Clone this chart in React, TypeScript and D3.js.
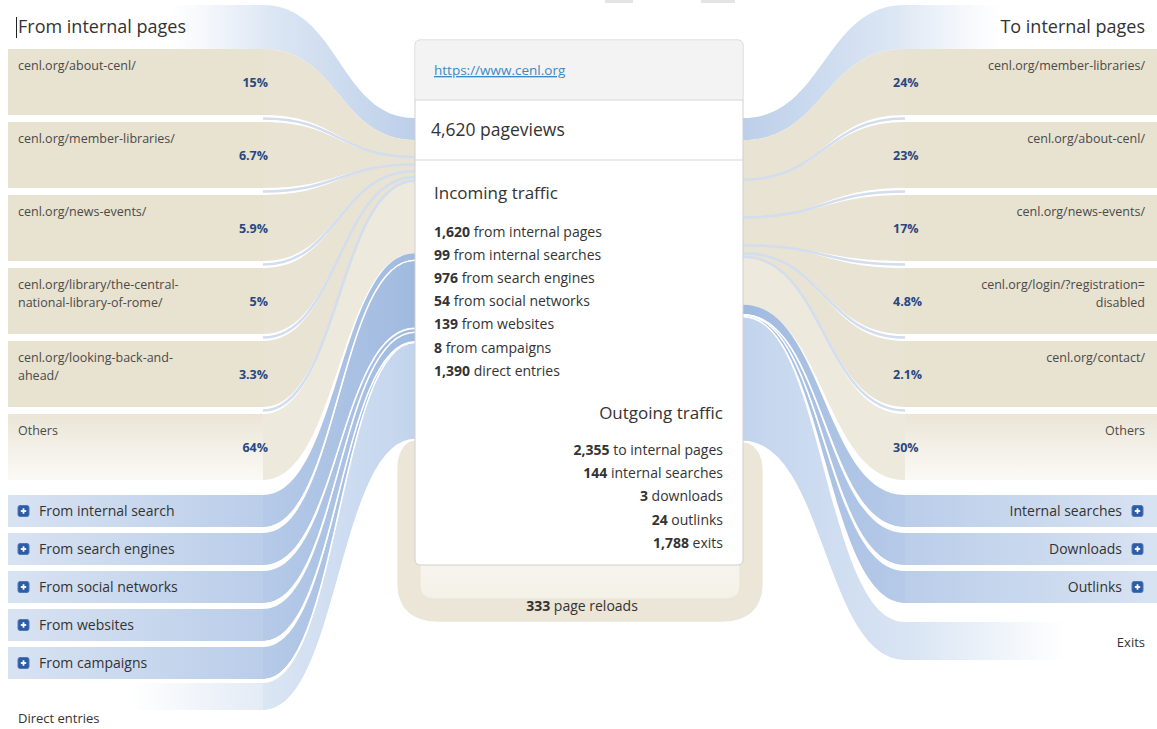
import * as d3 from "d3";

const pageUrl = "https://www.cenl.org";
const pageviews = 4620;
const reloads = 333;

const fromPageLabels = [
  ["cenl.org/about-cenl/"],
  ["cenl.org/member-libraries/"],
  ["cenl.org/news-events/"],
  ["cenl.org/library/the-central-", "national-library-of-rome/"],
  ["cenl.org/looking-back-and-", "ahead/"],
  ["Others"],
];
const fromPageShares = [15, 6.7, 5.9, 5, 3.3, 64];

const toPageLabels = [
  ["cenl.org/member-libraries/"],
  ["cenl.org/about-cenl/"],
  ["cenl.org/news-events/"],
  ["cenl.org/login/?registration=", "disabled"],
  ["cenl.org/contact/"],
  ["Others"],
];
const toPageShares = [24, 23, 17, 4.8, 2.1, 30];

const incomingLabels = [
  "from internal pages",
  "from internal searches",
  "from search engines",
  "from social networks",
  "from websites",
  "from campaigns",
  "direct entries",
];
const incomingValues = [1620, 99, 976, 54, 139, 8, 1390];
const incomingGroups = [
  "From internal search",
  "From search engines",
  "From social networks",
  "From websites",
  "From campaigns",
  "Direct entries",
];

const outgoingLabels = ["to internal pages", "internal searches", "downloads", "outlinks", "exits"];
const outgoingValues = [2355, 144, 3, 24, 1788];
const outgoingGroups = ["Internal searches", "Downloads", "Outlinks", "Exits"];

// ---- layout
const W = 1157;
const H = 729;
const FONT = "'Open Sans', 'Noto Sans', sans-serif";
const fmt = d3.format(",");

const boxL0 = 8;
const junctionL = 263;
const centerL = 415;
const centerR = 743;
const junctionR = 905;
const boxR1 = 1157;
const flowTop = 140;
const pageTop = (i: number) => 49 + i * 73;
const pageH = 66;
const groupTop = (i: number) => 495 + i * 38;
const groupH = 32;

// flow thickness where it meets the centre box
const thick = d3.scaleLinear().domain([0, pageviews]).range([0, 323]);

const stack = (values: number[], start: number) => {
  let y = start;
  return values.map((v) => {
    const y0 = y;
    y += thick(v);
    return [y0, y];
  });
};

const inPageDest = stack(fromPageShares.map((s) => (s / 100) * incomingValues[0]), flowTop);
const inGroupDest = stack(incomingValues.slice(1), flowTop + thick(incomingValues[0]));
const outPageDest = stack(toPageShares.map((s) => (s / 100) * outgoingValues[0]), flowTop);
const outGroupDest = stack(outgoingValues.slice(1), flowTop + thick(outgoingValues[0]));

const leftGroupBoxes = incomingGroups.map((_, i) =>
  i < incomingGroups.length - 1 ? { top: groupTop(i), h: groupH } : { top: 683, h: 27 }
);
const rightGroupBoxes = outgoingGroups.map((_, i) =>
  i < outgoingGroups.length - 1 ? { top: groupTop(i), h: groupH } : { top: 622, h: 38 }
);

// band between two vertical intervals
const band = (xa: number, a0: number, a1: number, xb: number, b0: number, b1: number) => {
  const p = d3.path();
  const xm = (xa + xb) / 2;
  p.moveTo(xa, a0);
  p.bezierCurveTo(xm, a0, xm, b0, xb, b0);
  p.lineTo(xb, b1);
  p.bezierCurveTo(xm, b1, xm, a1, xa, a1);
  p.closePath();
  return p.toString();
};
const edge = (xa: number, a: number, xb: number, b: number) => {
  const p = d3.path();
  const xm = (xa + xb) / 2;
  p.moveTo(xa, a);
  p.bezierCurveTo(xm, a, xm, b, xb, b);
  return p.toString();
};

const PlusIcon = ({ x, y }: { x: number; y: number }) => (
  <g transform={`translate(${x},${y})`}>
    <rect x={0} y={-5.5} width={11} height={11} rx={2} fill="#2c5ca6" stroke="#4f78b8" />
    <line x1={2.8} x2={8.2} y1={0} y2={0} stroke="#fff" strokeWidth={1.8} />
    <line x1={5.5} x2={5.5} y1={-2.7} y2={2.7} stroke="#fff" strokeWidth={1.8} />
  </g>
);

export default function App() {
  const inTotal = d3.sum(incomingValues);
  const outTotal = d3.sum(outgoingValues);
  const loopW = thick(reloads);
  const yl = flowTop + thick(inTotal) + loopW / 2;
  const yr = flowTop + thick(outTotal) + loopW / 2;
  const loopX0 = 409;
  const loopX1 = 751;
  const loopY = 610;

  const loop = d3.path();
  loop.moveTo(centerL + 4, yl);
  loop.quadraticCurveTo(loopX0, yl, loopX0, yl + 18);
  loop.lineTo(loopX0, loopY - 26);
  loop.quadraticCurveTo(loopX0, loopY, loopX0 + 28, loopY);
  loop.lineTo(loopX1 - 28, loopY);
  loop.quadraticCurveTo(loopX1, loopY, loopX1, loopY - 26);
  loop.lineTo(loopX1, yr + 18);
  loop.quadraticCurveTo(loopX1, yr, centerR - 4, yr);

  return (
    <svg
      width={W}
      height={H}
      style={{ position: "absolute", left: 0, top: 0, background: "#fff" }}
      fontFamily={FONT}
    >
      <defs>
        <linearGradient id="othersFill" x1="0" y1="0" x2="0" y2="1">
          <stop offset="0" stopColor="#ebe5d7" />
          <stop offset="1" stopColor="#fbfaf6" />
        </linearGradient>
        <linearGradient id="blueBoxL" gradientUnits="userSpaceOnUse" x1={boxL0} x2={junctionL} y1={0} y2={0}>
          <stop offset="0" stopColor="#d8e3f2" />
          <stop offset="1" stopColor="#bacde9" />
        </linearGradient>
        <linearGradient id="blueBoxR" gradientUnits="userSpaceOnUse" x1={junctionR} x2={boxR1} y1={0} y2={0}>
          <stop offset="0" stopColor="#bacde9" />
          <stop offset="1" stopColor="#d8e3f2" />
        </linearGradient>
        <linearGradient id="blueFlowL" gradientUnits="userSpaceOnUse" x1={junctionL} x2={centerL} y1={0} y2={0}>
          <stop offset="0" stopColor="#b6cae8" />
          <stop offset="1" stopColor="#a0badf" />
        </linearGradient>
        <linearGradient id="blueFlowR" gradientUnits="userSpaceOnUse" x1={centerR} x2={junctionR} y1={0} y2={0}>
          <stop offset="0" stopColor="#a0badf" />
          <stop offset="1" stopColor="#b6cae8" />
        </linearGradient>
        <linearGradient id="plainFlowL" gradientUnits="userSpaceOnUse" x1={junctionL} x2={centerL} y1={0} y2={0}>
          <stop offset="0" stopColor="#dbe6f4" />
          <stop offset="1" stopColor="#c2d4ed" />
        </linearGradient>
        <linearGradient id="plainBoxL" gradientUnits="userSpaceOnUse" x1={130} x2={junctionL} y1={0} y2={0}>
          <stop offset="0" stopColor="#ffffff" />
          <stop offset="1" stopColor="#e3ebf6" />
        </linearGradient>
        <linearGradient id="plainFlowR" gradientUnits="userSpaceOnUse" x1={centerR} x2={junctionR} y1={0} y2={0}>
          <stop offset="0" stopColor="#c2d4ed" />
          <stop offset="1" stopColor="#d8e4f3" />
        </linearGradient>
        <linearGradient id="plainBoxR" gradientUnits="userSpaceOnUse" x1={junctionR} x2={1065} y1={0} y2={0}>
          <stop offset="0" stopColor="#d8e4f3" />
          <stop offset="1" stopColor="#ffffff" />
        </linearGradient>
        <linearGradient id="glowL" gradientUnits="userSpaceOnUse" x1={170} x2={centerL} y1={0} y2={0}>
          <stop offset="0" stopColor="#e4ecf7" stopOpacity="0" />
          <stop offset="0.4" stopColor="#dde7f4" />
          <stop offset="1" stopColor="#bccfea" />
        </linearGradient>
        <linearGradient id="glowR" gradientUnits="userSpaceOnUse" x1={centerR} x2={1000} y1={0} y2={0}>
          <stop offset="0" stopColor="#bccfea" />
          <stop offset="0.6" stopColor="#dde7f4" />
          <stop offset="1" stopColor="#e4ecf7" stopOpacity="0" />
        </linearGradient>
        <linearGradient id="loopFade" x1="0" y1="0" x2="0" y2="1">
          <stop offset="0" stopColor="#ffffff" />
          <stop offset="1" stopColor="#f3f0e6" />
        </linearGradient>
      </defs>

      {/* cropped toolbar remnants */}
      <rect x={605} y={0} width={28} height={3} fill="#e4e4e4" />
      <rect x={701} y={0} width={34} height={3} fill="#e4e4e4" />

      {/* page reload loop */}
      <rect x={loopX0} y={430} width={loopX1 - loopX0} height={loopY - 430} fill="url(#loopFade)" />
      <path d={loop.toString()} fill="none" stroke="#ebe6d7" strokeWidth={loopW} strokeLinejoin="round" />

      {/* glow bands along the top */}
      <path d={band(junctionL, 5, pageTop(0), centerL, flowTop - 22, flowTop)} fill="url(#glowL)" />
      <rect x={170} y={5} width={junctionL - 170} height={pageTop(0) - 5} fill="url(#glowL)" />
      <path d={band(centerR, flowTop - 22, flowTop, junctionR, 5, pageTop(0))} fill="url(#glowR)" />
      <rect x={junctionR} y={5} width={1000 - junctionR} height={pageTop(0) - 5} fill="url(#glowR)" />

      {/* left: internal page flows */}
      {fromPageShares.map((_, i) => {
        const [d0, d1] = inPageDest[i];
        return (
          <path
            key={`lpf${i}`}
            d={band(junctionL, pageTop(i), pageTop(i) + pageH, centerL, d0, d1)}
            fill={i === fromPageShares.length - 1 ? "#eee9dd" : "#e9e3d3"}
          />
        );
      })}
      {fromPageShares.map((_, i) =>
        i === 0 ? null : (
          <path
            key={`lpe${i}`}
            d={edge(junctionL, pageTop(i) - 3.5, centerL, inPageDest[i][0])}
            fill="none"
            stroke="#d2ddee"
            strokeWidth={2.5}
          />
        )
      )}

      {/* left: other incoming flows */}
      {leftGroupBoxes.map((b, i) => {
        const [d0, d1] = inGroupDest[i];
        const plain = i === leftGroupBoxes.length - 1;
        return (
          <path
            key={`lgf${i}`}
            d={band(junctionL, b.top, b.top + b.h, centerL, d0, d1)}
            fill={plain ? "url(#plainFlowL)" : "url(#blueFlowL)"}
          />
        );
      })}
      {leftGroupBoxes.map((b, i) => (
        <path
          key={`lge${i}`}
          d={edge(junctionL, b.top + b.h + 1, centerL, inGroupDest[i][1])}
          fill="none"
          stroke="#fff"
          strokeWidth={1.6}
        />
      ))}

      {/* right: internal page flows */}
      {toPageShares.map((_, i) => {
        const [d0, d1] = outPageDest[i];
        return (
          <path
            key={`rpf${i}`}
            d={band(centerR, d0, d1, junctionR, pageTop(i), pageTop(i) + pageH)}
            fill={i === toPageShares.length - 1 ? "#eee9dd" : "#e9e3d3"}
          />
        );
      })}
      {toPageShares.map((_, i) =>
        i === 0 ? null : (
          <path
            key={`rpe${i}`}
            d={edge(centerR, outPageDest[i][0], junctionR, pageTop(i) - 3.5)}
            fill="none"
            stroke="#d2ddee"
            strokeWidth={2.5}
          />
        )
      )}

      {/* right: other outgoing flows */}
      {rightGroupBoxes.map((b, i) => {
        const [d0, d1] = outGroupDest[i];
        const plain = i === rightGroupBoxes.length - 1;
        return (
          <path
            key={`rgf${i}`}
            d={band(centerR, d0, d1, junctionR, b.top, b.top + b.h)}
            fill={plain ? "url(#plainFlowR)" : "url(#blueFlowR)"}
          />
        );
      })}
      {rightGroupBoxes.map((b, i) => (
        <path
          key={`rge${i}`}
          d={edge(centerR, outGroupDest[i][1], junctionR, b.top + b.h + 1)}
          fill="none"
          stroke="#fff"
          strokeWidth={1.6}
        />
      ))}

      {/* left column */}
      <text x={18} y={33} fontSize={18} fill="#333">From internal pages</text>
      <line x1={16.5} x2={16.5} y1={17} y2={38} stroke="#222" strokeWidth={1} />
      {fromPageLabels.map((lines, i) => {
        const top = pageTop(i);
        const others = i === fromPageLabels.length - 1;
        return (
          <g key={`lp${i}`}>
            <rect
              x={boxL0}
              y={top}
              width={junctionL - boxL0}
              height={pageH}
              fill={others ? "url(#othersFill)" : "#e8e2d1"}
            />
            {lines.map((t, j) => (
              <text key={j} x={18} y={top + 21 + j * 18} fontSize={12.5} fill="#4a4a4a">
                {t}
              </text>
            ))}
            <text x={268} y={top + 38} fontSize={12.5} fontWeight={700} fill="#27487f" textAnchor="end">
              {`${fromPageShares[i]}%`}
            </text>
          </g>
        );
      })}
      {incomingGroups.map((g, i) => {
        const b = leftGroupBoxes[i];
        const plain = i === incomingGroups.length - 1;
        return (
          <g key={`lg${i}`}>
            <rect
              x={boxL0}
              y={b.top}
              width={junctionL - boxL0}
              height={b.h}
              fill={plain ? "url(#plainBoxL)" : "url(#blueBoxL)"}
            />
            {plain ? (
              <text x={18} y={723} fontSize={13} fill="#333">{g}</text>
            ) : (
              <>
                <PlusIcon x={18} y={b.top + 16} />
                <text x={39} y={b.top + 21} fontSize={14} fill="#333">{g}</text>
              </>
            )}
          </g>
        );
      })}

      {/* right column */}
      <text x={1145} y={33} fontSize={18} fill="#333" textAnchor="end">To internal pages</text>
      {toPageLabels.map((lines, i) => {
        const top = pageTop(i);
        const others = i === toPageLabels.length - 1;
        return (
          <g key={`rp${i}`}>
            <rect
              x={junctionR}
              y={top}
              width={boxR1 - junctionR}
              height={pageH}
              fill={others ? "url(#othersFill)" : "#e8e2d1"}
            />
            {lines.map((t, j) => (
              <text key={j} x={1145} y={top + 21 + j * 18} fontSize={12.5} fill="#4a4a4a" textAnchor="end">
                {t}
              </text>
            ))}
            <text x={893} y={top + 38} fontSize={12.5} fontWeight={700} fill="#27487f">
              {`${toPageShares[i]}%`}
            </text>
          </g>
        );
      })}
      {outgoingGroups.map((g, i) => {
        const b = rightGroupBoxes[i];
        const plain = i === outgoingGroups.length - 1;
        return (
          <g key={`rg${i}`}>
            <rect
              x={junctionR}
              y={b.top}
              width={boxR1 - junctionR}
              height={b.h}
              fill={plain ? "url(#plainBoxR)" : "url(#blueBoxR)"}
            />
            {plain ? (
              <text x={1145} y={647} fontSize={13} fill="#333" textAnchor="end">{g}</text>
            ) : (
              <>
                <PlusIcon x={1132} y={b.top + 16} />
                <text x={1122} y={b.top + 21} fontSize={14} fill="#333" textAnchor="end">{g}</text>
              </>
            )}
          </g>
        );
      })}

      {/* centre box */}
      <rect x={centerL} y={40} width={centerR - centerL} height={525} rx={5} fill="#fff" stroke="#cfcfcf" />
      <path
        d={`M${centerL + 0.5},100 L${centerL + 0.5},45 Q${centerL + 0.5},40.5 ${centerL + 5},40.5 L${centerR - 5},40.5 Q${centerR - 0.5},40.5 ${centerR - 0.5},45 L${centerR - 0.5},100 Z`}
        fill="#f3f3f3"
      />
      <line x1={centerL} x2={centerR} y1={100} y2={100} stroke="#d6d6d6" />
      <line x1={centerL} x2={centerR} y1={160} y2={160} stroke="#d6d6d6" />
      <text x={434} y={75} fontSize={13.5} fill="#3b8ac6" textDecoration="underline">{pageUrl}</text>
      <text x={431} y={136} fontSize={17.5} fill="#333">{`${fmt(pageviews)} pageviews`}</text>

      <text x={434} y={199} fontSize={17} fill="#333">Incoming traffic</text>
      {incomingValues.map((v, i) => (
        <text key={`in${i}`} x={434} y={237 + i * 23.1} fontSize={14} fill="#333">
          <tspan fontWeight={700}>{fmt(v)}</tspan> {incomingLabels[i]}
        </text>
      ))}

      <text x={723} y={419} fontSize={17} fill="#333" textAnchor="end">Outgoing traffic</text>
      {outgoingValues.map((v, i) => (
        <text key={`out${i}`} x={723} y={455 + i * 23.2} fontSize={14} fill="#333" textAnchor="end">
          <tspan fontWeight={700}>{fmt(v)}</tspan> {outgoingLabels[i]}
        </text>
      ))}

      <text x={582} y={611} fontSize={14} fill="#333" textAnchor="middle">
        <tspan fontWeight={700}>{reloads}</tspan> page reloads
      </text>
    </svg>
  );
}
